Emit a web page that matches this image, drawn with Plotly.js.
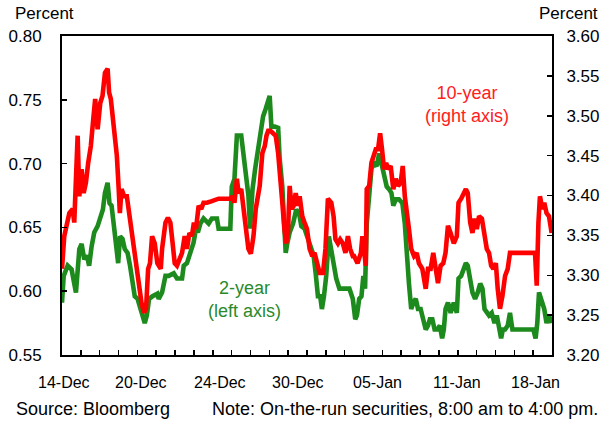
<!DOCTYPE html>
<html>
<head>
<meta charset="utf-8">
<script src="https://cdn.plot.ly/plotly-3.0.1.min.js"></script>
<style>html,body{margin:0;padding:0;background:#fff;}#chart{width:613px;height:423px;}</style>
</head>
<body>
<div id="chart"></div>
<script>
// x = trading days since the open of 14-Dec (fractional, intraday)
var redDay = [0,0.12,0.39,0.57,0.65,0.83,0.92,1.04,1.15,1.27,
1.39,1.53,1.66,1.76,1.89,2.03,2.15,2.28,2.42,2.50,
2.59,2.68,2.80,2.91,3.00,3.07,3.16,3.30,3.44,3.56,
3.69,3.83,3.97,4.09,4.22,4.35,4.46,4.57,4.67,4.78,
4.92,5.06,5.24,5.31,5.49,5.62,5.75,5.87,5.98,6.10,
6.23,6.37,6.51,6.63,6.76,6.89,7.00,7.11,7.25,7.39,
7.51,7.69,7.95,8.31,8.66,8.93,9.05,9.15,9.28,9.37,
9.51,9.63,9.75,9.89,10.02,10.16,10.28,10.42,10.49,10.63,
10.76,10.85,10.94,11.06,11.20,11.34,11.47,11.59,11.69,11.80,
11.90,11.99,12.08,12.19,12.29,12.40,12.52,12.61,12.75,12.87,
13.00,13.14,13.28,13.40,13.53,13.67,13.85,13.98,14.11,14.29,
14.41,14.51,14.64,14.76,14.90,15.04,15.17,15.29,15.43,15.50,
15.68,15.86,15.94,16.03,16.12,16.17,16.30,16.42,16.52,16.65,
16.77,16.88,16.98,17.09,17.20,17.30,17.44,17.58,17.71,17.83,
17.97,18.08,18.19,18.29,18.41,18.53,18.68,18.82,18.94,19.12,
19.30,19.42,19.56,19.70,19.83,19.95,20.09,20.23,20.35,20.48,
20.62,20.79,20.95,21.04,21.18,21.31,21.43,21.53,21.66,21.78,
21.89,22.01,22.13,22.28,22.42,22.54,22.66,22.77,22.89,23.02,
23.12,23.24,23.37,23.51,23.65,23.77,25.10,25.19,25.28,25.36,
25.49,25.59,25.71,25.84,25.98];

var red10y = [3.308,3.349,3.378,3.383,3.366,3.475,3.399,3.433,3.403,3.416,
3.441,3.462,3.496,3.521,3.483,3.516,3.525,3.554,3.559,3.529,
3.521,3.503,3.483,3.450,3.412,3.378,3.408,3.399,3.399,3.378,
3.349,3.328,3.303,3.283,3.265,3.253,3.258,3.308,3.315,3.349,
3.340,3.315,3.308,3.333,3.366,3.372,3.366,3.340,3.315,3.312,
3.320,3.328,3.349,3.333,3.353,3.349,3.366,3.358,3.387,3.383,
3.391,3.391,3.393,3.396,3.396,3.396,3.399,3.391,3.421,3.403,
3.408,3.383,3.353,3.333,3.327,3.349,3.383,3.403,3.412,3.453,
3.462,3.475,3.481,3.481,3.478,3.475,3.453,3.424,3.391,3.358,
3.340,3.353,3.412,3.383,3.387,3.403,3.387,3.399,3.374,3.366,
3.358,3.333,3.324,3.328,3.315,3.303,3.303,3.333,3.396,3.391,
3.374,3.345,3.340,3.345,3.340,3.328,3.349,3.333,3.324,3.324,
3.315,3.328,3.349,3.324,3.312,3.408,3.412,3.441,3.450,3.458,
3.458,3.478,3.458,3.433,3.441,3.433,3.437,3.408,3.421,3.412,
3.416,3.437,3.399,3.383,3.358,3.333,3.324,3.328,3.315,3.308,
3.283,3.308,3.308,3.328,3.308,3.290,3.312,3.315,3.328,3.362,
3.353,3.340,3.349,3.391,3.396,3.403,3.408,3.403,3.366,3.353,
3.371,3.358,3.374,3.371,3.349,3.333,3.328,3.312,3.308,3.315,
3.283,3.258,3.274,3.299,3.308,3.328,3.328,3.287,3.366,3.399,
3.383,3.391,3.378,3.374,3.353];

var greenDay = [0,0.09,0.30,0.51,0.74,0.92,1.04,1.18,1.32,1.44,
1.57,1.71,1.89,2.03,2.17,2.28,2.42,2.52,2.63,2.74,
2.86,2.98,3.08,3.21,3.33,3.48,3.61,3.74,3.86,4.01,
4.14,4.27,4.39,4.50,4.62,4.80,5.06,5.13,5.31,5.49,
5.66,5.93,6.10,6.37,6.46,6.63,6.81,6.98,7.11,7.21,
7.34,7.51,7.78,7.95,8.22,8.31,8.93,9.01,9.15,9.28,
9.51,9.63,9.75,9.89,9.98,10.11,10.25,10.42,10.49,10.67,
10.81,10.94,11.02,11.11,11.29,11.47,11.55,11.69,11.78,11.87,
11.96,12.08,12.26,12.43,12.58,12.70,12.87,13.05,13.23,13.35,
13.46,13.58,13.70,13.79,13.90,14.02,14.16,14.29,14.41,14.55,
14.72,15.25,15.43,15.56,15.65,15.77,15.89,15.99,16.08,16.17,
16.30,16.42,16.56,16.70,16.83,16.95,17.09,17.23,17.35,17.48,
17.58,17.71,17.88,18.06,18.19,18.29,18.41,18.53,18.64,18.77,
18.89,19.03,19.17,19.30,19.42,19.52,19.65,19.77,19.91,20.05,
20.17,20.26,20.35,20.48,20.62,20.79,20.95,21.04,21.18,21.31,
21.43,21.53,21.66,21.78,21.92,22.06,22.19,22.31,22.42,22.54,
22.66,22.80,22.95,23.07,23.19,23.30,23.39,23.51,23.65,23.77,
23.90,25.01,25.13,25.22,25.31,25.45,25.59,25.71,25.84,25.98];

var green2y = [0.591,0.612,0.620,0.617,0.599,0.633,0.637,0.625,0.628,0.620,
0.635,0.646,0.651,0.657,0.664,0.677,0.685,0.669,0.667,0.653,
0.638,0.622,0.643,0.641,0.633,0.630,0.620,0.604,0.596,0.594,
0.588,0.581,0.575,0.581,0.594,0.596,0.598,0.594,0.599,0.612,
0.612,0.614,0.610,0.610,0.620,0.622,0.630,0.638,0.649,0.646,
0.653,0.657,0.653,0.657,0.657,0.649,0.649,0.682,0.688,0.722,
0.722,0.708,0.690,0.675,0.649,0.680,0.696,0.714,0.724,0.737,
0.743,0.751,0.753,0.729,0.729,0.728,0.704,0.682,0.653,0.630,
0.638,0.646,0.653,0.664,0.661,0.651,0.649,0.641,0.633,0.628,
0.614,0.596,0.596,0.586,0.596,0.612,0.643,0.630,0.622,0.610,
0.602,0.602,0.594,0.578,0.581,0.594,0.596,0.612,0.602,0.653,
0.675,0.696,0.700,0.698,0.708,0.700,0.688,0.682,0.680,0.677,
0.667,0.672,0.672,0.669,0.653,0.628,0.606,0.586,0.591,0.594,
0.586,0.586,0.578,0.570,0.573,0.578,0.578,0.570,0.570,0.573,
0.563,0.570,0.586,0.591,0.583,0.591,0.583,0.610,0.612,0.617,
0.622,0.620,0.606,0.599,0.594,0.599,0.606,0.602,0.586,0.583,
0.581,0.583,0.575,0.581,0.570,0.563,0.570,0.570,0.573,0.583,
0.570,0.570,0.563,0.575,0.599,0.591,0.586,0.575,0.581,0.575];

var xTickLabels = ['14-Dec','20-Dec','24-Dec','30-Dec','05-Jan','11-Jan','18-Jan'];
var xTickLabelPos = [0.11,4.18,8.36,12.52,16.75,20.98,25.1];

var RED = '#ff0000', GREEN = '#1c8a1c';
var FONT = 'Liberation Sans, Arial, Helvetica, sans-serif';

var traces = [
  {x: greenDay, y: green2y, type: 'scatter', mode: 'lines', yaxis: 'y',
   line: {color: GREEN, width: 4.6}, hoverinfo: 'skip'},
  {x: redDay, y: red10y, type: 'scatter', mode: 'lines', yaxis: 'y2',
   line: {color: RED, width: 4.6}, hoverinfo: 'skip'}
];

var annotations = [];
for (var i = 0; i < xTickLabels.length; i++) {
  annotations.push({text: xTickLabels[i], x: xTickLabelPos[i], xref: 'x', y: -0.085, yref: 'paper',
    xanchor: 'center', yanchor: 'middle', showarrow: false, font: {size: 16, color: '#000'}});
}
annotations.push(
  {text: 'Percent', xref: 'paper', x: -0.1, xanchor: 'left', yref: 'paper', y: 1.069, yanchor: 'middle',
   showarrow: false, font: {size: 17, color: '#000'}},
  {text: 'Percent', xref: 'paper', x: 1.098, xanchor: 'right', yref: 'paper', y: 1.069, yanchor: 'middle',
   showarrow: false, font: {size: 17, color: '#000'}},
  {text: 'Source: Bloomberg', xref: 'paper', x: -0.098, xanchor: 'left', yref: 'paper', y: -0.169, yanchor: 'middle',
   showarrow: false, font: {size: 18, color: '#000'}},
  {text: 'Note: On-the-run securities, 8:00 am to 4:00 pm.', xref: 'paper', x: 1.098, xanchor: 'right', yref: 'paper', y: -0.169, yanchor: 'middle',
   showarrow: false, font: {size: 18, color: '#000'}},
  {text: '10-year<br>(right axis)', xref: 'x', x: 21.48, xanchor: 'center', yref: 'paper', y: 0.784, yanchor: 'middle',
   showarrow: false, font: {size: 18, color: '#ff2020'}},
  {text: '2-year<br>(left axis)', xref: 'x', x: 9.68, xanchor: 'center', yref: 'paper', y: 0.174, yanchor: 'middle',
   showarrow: false, font: {size: 18, color: '#2a8a2a'}}
);

var layout = {
  width: 613, height: 423,
  margin: {l: 62, r: 61, t: 36, b: 68, pad: 0},
  paper_bgcolor: '#fff', plot_bgcolor: '#fff',
  showlegend: false,
  font: {family: FONT, size: 16, color: '#000'},
  xaxis: {range: [0, 26], tickmode: 'linear', tick0: 0, dtick: 1, showticklabels: false,
    ticks: 'inside', ticklen: 5, tickwidth: 1.5, tickcolor: '#000',
    showline: true, linecolor: '#000', linewidth: 2, mirror: true,
    showgrid: false, zeroline: false, fixedrange: true},
  yaxis: {range: [0.55, 0.80], tickmode: 'linear', tick0: 0.55, dtick: 0.05, tickformat: '.2f',
    ticks: 'inside', ticklen: 5, tickwidth: 1.5, tickcolor: '#000', ticklabelstandoff: 15,
    showline: true, linecolor: '#000', linewidth: 2, showgrid: false, zeroline: false,
    tickfont: {size: 17, color: '#000'}, fixedrange: true},
  yaxis2: {range: [3.20, 3.60], overlaying: 'y', side: 'right', tickmode: 'linear', tick0: 3.2, dtick: 0.05, tickformat: '.2f',
    ticks: 'inside', ticklen: 5, tickwidth: 1.5, tickcolor: '#000', ticklabelstandoff: 9,
    showline: true, linecolor: '#000', linewidth: 2, showgrid: false, zeroline: false,
    tickfont: {size: 17, color: '#000'}, fixedrange: true},
  annotations: annotations
};

Plotly.newPlot('chart', traces, layout, {staticPlot: true, displayModeBar: false});
</script>
</body>
</html>
